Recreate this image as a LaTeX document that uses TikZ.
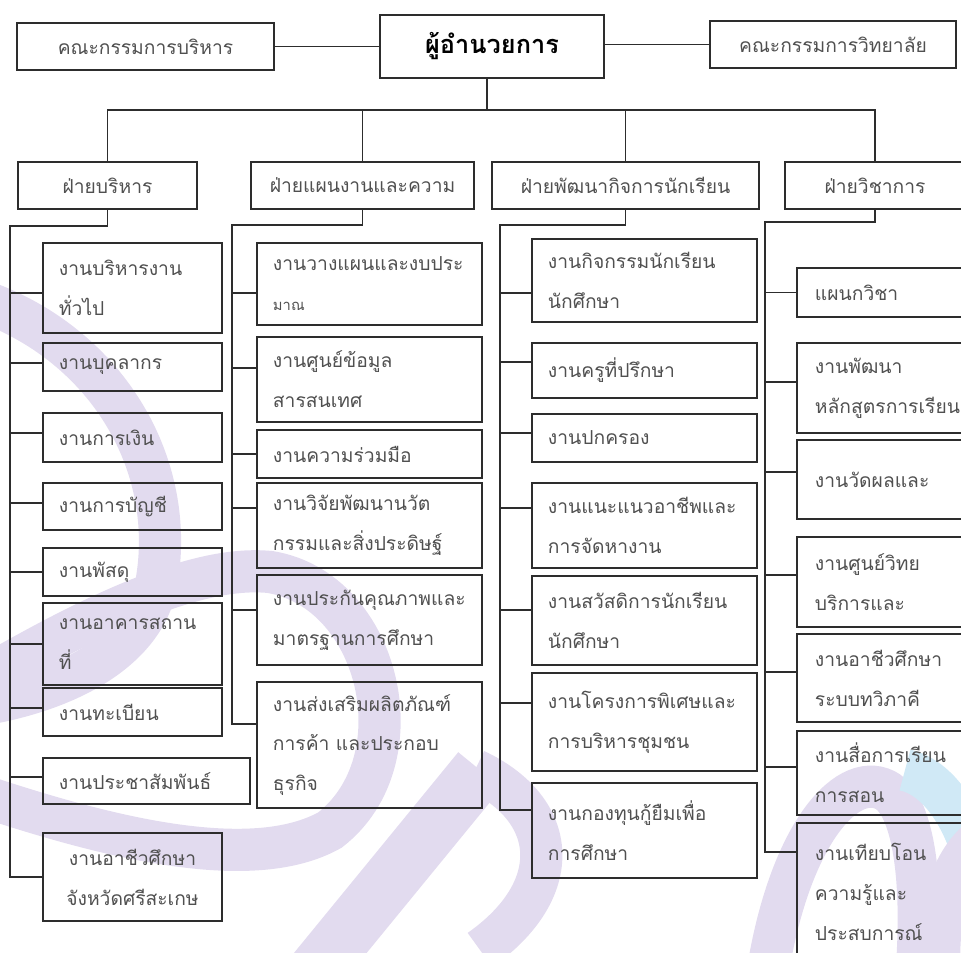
\documentclass[tikz,border=0pt]{standalone}
\usepackage{fontspec}
\newfontfamily\thai[Script=Thai]{Loma}
\usetikzlibrary{calc}
\definecolor{linec}{RGB}{45,45,45}
\definecolor{textc}{RGB}{80,80,80}
\definecolor{lav}{RGB}{226,219,239}
\definecolor{skyw}{RGB}{208,233,246}

\tikzset{
  link/.style={draw=linec, line width=1.25pt},
  topbox/.style={draw=linec, line width=1.25pt, inner sep=0pt, text=textc, font=\thai\fontsize{13.7}{16}\selectfont},
  jobbox/.style={draw=linec, line width=1.25pt, align=left, inner xsep=0.4cm, inner ysep=0pt, text=textc, font=\thai\fontsize{13.7}{28.4}\selectfont},
  jobA/.style={jobbox, text width=3.675cm},
  jobB/.style={jobbox, text width=4.825cm},
  jobD/.style={jobbox, inner xsep=0.45cm, text width=3.55cm},
  swoosh/.style={draw=lav, line width=30pt},
}

\begin{document}
\begin{tikzpicture}[x=0.025cm, y=-0.025cm]
  \clip (0,0) rectangle (961,953);

  % watermark
  \draw[swoosh] (-20,300) .. controls (110,345) and (180,470) .. (155,590) .. controls (140,650) and (70,690) .. (-20,705);
  \draw[swoosh] (-20,680) .. controls (100,610) and (200,565) .. (270,572) .. controls (380,590) and (420,760) .. (330,830) .. controls (250,875) and (100,835) .. (-20,795);
  \draw[swoosh, line width=40pt] (300,990) -- (480,770);
  \draw[swoosh] (475,770) .. controls (560,810) and (565,890) .. (480,950);
  \draw[swoosh] (765,990) .. controls (785,840) and (845,770) .. (885,790) .. controls (915,805) and (925,890) .. (915,990);
  \draw[swoosh, draw=skyw] (905,770) .. controls (950,780) and (980,850) .. (980,900);
  \draw[swoosh] (940,990) .. controls (935,910) and (950,860) .. (985,835);

  \draw (145.5,46.5) node[topbox, minimum width=6.425cm, minimum height=1.175cm] (exec) {คณะกรรมการบริหาร};
  \draw (492,46.5) node[topbox, minimum width=5.6cm, minimum height=1.575cm, text=black, font=\thai\bfseries\fontsize{18}{20}\selectfont] (dir) {ผู้อำนวยการ};
  \draw (833,44.5) node[topbox, minimum width=6.15cm, minimum height=1.175cm] (board) {คณะกรรมการวิทยาลัย};

  \draw (107.5,185.5) node[topbox, minimum width=4.475cm, minimum height=1.175cm] (d1) {ฝ่ายบริหาร};
  \draw (362.5,185.5) node[topbox, minimum width=5.575cm, minimum height=1.175cm] (d2) {ฝ่ายแผนงานและความ};
  \draw (625.5,185.5) node[topbox, minimum width=6.675cm, minimum height=1.175cm] (d3) {ฝ่ายพัฒนากิจการนักเรียน};
  \draw (875,185.5) node[topbox, minimum width=4.5cm, minimum height=1.175cm] (d4) {ฝ่ายวิชาการ};

  \draw (132.5,288) node[jobA, minimum height=2.25cm] (a1) {งานบริหารงาน\\ทั่วไป};
  \draw (132.5,367) node[jobA, minimum height=1.2cm] (a2) {งานบุคลากร};
  \draw (132.5,437.5) node[jobA, minimum height=1.225cm] (a3) {งานการเงิน};
  \draw (132.5,506.5) node[jobA, minimum height=1.175cm] (a4) {งานการบัญชี};
  \draw (132.5,572) node[jobA, minimum height=1.2cm] (a5) {งานพัสดุ};
  \draw (132.5,644) node[jobA, minimum height=2.05cm] (a6) {งานอาคารสถาน\\ที่};
  \draw (132.5,712) node[jobA, minimum height=1.2cm] (a7) {งานทะเบียน};
  \draw (146.5,781) node[jobA, text width=4.375cm, minimum height=1.15cm] (a8) {งานประชาสัมพันธ์};
  \draw (132.5,877) node[jobA, align=center, minimum height=2.2cm] (a9) {งานอาชีวศึกษา\\จังหวัดศรีสะเกษ};

  \draw (369.5,284) node[jobB, minimum height=2.05cm] (p1) {งานวางแผนและงบประ\\{\fontsize{10.5}{28.4}\selectfont มาณ}};
  \draw (369.5,379.5) node[jobB, minimum height=2.125cm] (p2) {งานศูนย์ข้อมูล\\สารสนเทศ};
  \draw (369.5,454) node[jobB, minimum height=1.2cm] (p3) {งานความร่วมมือ};
  \draw (369.5,525.5) node[jobB, minimum height=2.125cm] (p4) {งานวิจัยพัฒนานวัต\\กรรมและสิ่งประดิษฐ์};
  \draw (369.5,620) node[jobB, minimum height=2.25cm] (p5) {งานประกันคุณภาพและ\\มาตรฐานการศึกษา};
  \draw (369.5,745) node[jobB, minimum height=3.15cm] (p6) {งานส่งเสริมผลิตภัณฑ์\\การค้า และประกอบ\\ธุรกิจ};

  \draw (644.5,280.5) node[jobB, minimum height=2.075cm] (s1) {งานกิจกรรมนักเรียน\\นักศึกษา};
  \draw (644.5,370.5) node[jobB, minimum height=1.375cm] (s2) {งานครูที่ปรึกษา};
  \draw (644.5,438) node[jobB, minimum height=1.2cm] (s3) {งานปกครอง};
  \draw (644.5,525.5) node[jobB, minimum height=2.125cm] (s4) {งานแนะแนวอาชีพและ\\การจัดหางาน};
  \draw (644.5,620.5) node[jobB, minimum height=2.225cm] (s5) {งานสวัสดิการนักเรียน\\นักศึกษา};
  \draw (644.5,722) node[jobB, minimum height=2.45cm] (s6) {งานโครงการพิเศษและ\\การบริหารชุมชน};
  \draw (644.5,830.5) node[jobB, minimum height=2.375cm] (s7) {งานกองทุนกู้ยืมเพื่อ\\การศึกษา};

  \draw (886,292.5) node[jobD, minimum height=1.225cm] (v1) {แผนกวิชา};
  \draw (886,388) node[jobD, minimum height=2.25cm] (v2) {งานพัฒนา\\หลักสูตรการเรียน};
  \draw (886,479.5) node[jobD, minimum height=1.975cm] (v3) {งานวัดผลและ};
  \draw (886,582) node[jobD, minimum height=2.25cm] (v4) {งานศูนย์วิทย\\บริการและ};
  \draw (886,678) node[jobD, minimum height=2.2cm] (v5) {งานอาชีวศึกษา\\ระบบทวิภาคี};
  \draw (886,773) node[jobD, minimum height=2.1cm] (v6) {งานสื่อการเรียน\\การสอน};
  \draw (886,891.5) node[jobD, minimum height=3.425cm] (v7) {งานเทียบโอน\\ความรู้และ\\ประสบการณ์};

  \coordinate (bar) at (487,110);
  \coordinate (sA) at (10,226);
  \coordinate (sB) at (232,225);
  \coordinate (sC) at (500,225);
  \coordinate (sD) at (765,222);

  \draw[link] (exec.east) -- (dir.west);
  \draw[link] (board.west -| dir.east) -- (board.west);
  \draw[link] (dir.south -| bar) -- (bar);
  \draw[link] (d1.north) |- (bar) -| (d4.north);
  \draw[link] (d2.north) -- (d2.north |- bar);
  \draw[link] (d3.north) -- (d3.north |- bar);

  \foreach \n/\s in {a1/-0.125,a2/0.1,a3/0.11,a4/0.09,a5/0,a6/0,a7/0.1,a8/0.1,a9/0,
                     p1/-0.225,p2/0.29,p3/0,p4/0.44,p5/0.25,p6/0.525,
                     s1/-0.31,s2/0.21,s3/0.125,s4/0.44,s5/0.26,s6/0.475,s7/0.51,
                     v1/0,v2/0.15,v3/0.19,v4/0.175,v5/0.15,v6/0.15,v7/0.99}
    \path ([yshift=\s cm]\n.west) coordinate (t\n);

  \draw[link] (d1.south) |- (sA) |- (ta9);
  \draw[link] (d2.south) |- (sB) |- (tp6);
  \draw[link] (d3.south) |- (sC) |- (ts7);
  \draw[link] (d4.south) |- (sD) |- (tv7);
  \foreach \n in {a1,a2,a3,a4,a5,a6,a7,a8}
    \draw[link] (t\n) -- (t\n -| sA);
  \foreach \n in {p1,p2,p3,p4,p5}
    \draw[link] (t\n) -- (t\n -| sB);
  \foreach \n in {s1,s2,s3,s4,s5,s6}
    \draw[link] (t\n) -- (t\n -| sC);
  \foreach \n in {v1,v2,v3,v4,v5,v6}
    \draw[link] (t\n) -- (t\n -| sD);
\end{tikzpicture}
\end{document}
